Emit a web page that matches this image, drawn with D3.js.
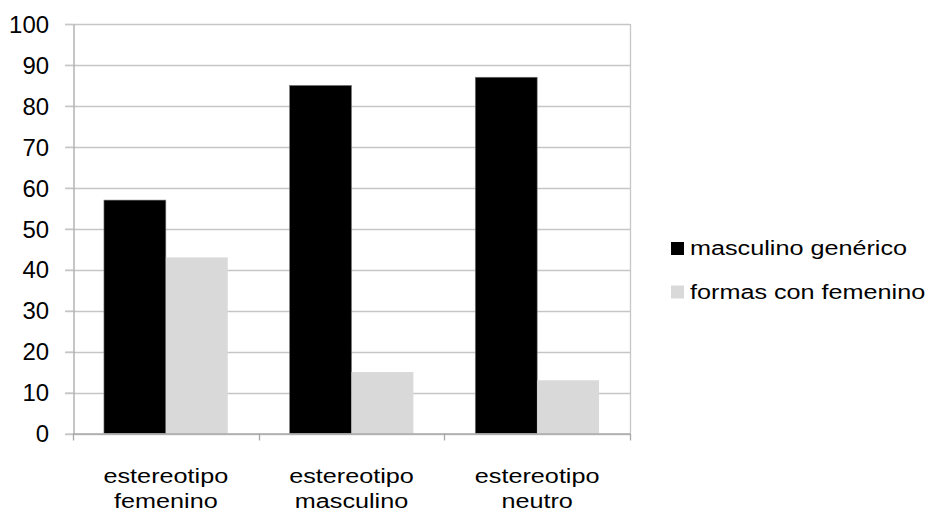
<!DOCTYPE html>
<html>
<head>
<meta charset="utf-8">
<script src="https://cdn.jsdelivr.net/npm/d3@7"></script>
<style>
  html, body { margin: 0; padding: 0; background: #fff; }
  svg { display: block; font-family: "Liberation Sans", Arial, sans-serif; }
</style>
</head>
<body>
<svg id="chart" width="928" height="512"></svg>
<script>
const categories = [["estereotipo", "femenino"], ["estereotipo", "masculino"], ["estereotipo", "neutro"]];
const seriesNames = ["masculino genérico", "formas con femenino"];
const masculinoGenerico = [57, 85, 87];
const formasConFemenino = [43, 15, 13];
const yTicks = [0, 10, 20, 30, 40, 50, 60, 70, 80, 90, 100];
const seriesColors = ["#000000", "#d9d9d9"];

const svg = d3.select("#chart");
const plotLeft = 73, plotRight = 630, plotTop = 24, plotBottom = 433.5;

const x = d3.scaleBand().domain(d3.range(categories.length)).range([plotLeft, plotRight])
  .paddingInner(1/3).paddingOuter(1/6);
const xs = d3.scaleBand().domain(d3.range(seriesNames.length)).range([0, x.bandwidth()]);
const y = d3.scaleLinear().domain([0, 100]).range([plotBottom, plotTop]);

// gridlines
svg.append("g").selectAll("line").data(yTicks).join("line")
  .attr("x1", plotLeft - 8).attr("x2", plotRight)
  .attr("y1", d => Math.round(y(d)) + 0.5).attr("y2", d => Math.round(y(d)) + 0.5)
  .attr("stroke", "#c6c6c6").attr("stroke-width", 1.3);

// right border line
svg.append("line").attr("x1", plotRight + 0.5).attr("x2", plotRight + 0.5)
  .attr("y1", plotTop).attr("y2", plotBottom).attr("stroke", "#c6c6c6").attr("stroke-width", 1.3);

// y axis
const yAxis = d3.axisLeft(y).tickValues(yTicks).tickSize(8).tickSizeOuter(0);
const gy = svg.append("g").attr("transform", `translate(${plotLeft + 0.5},0)`).call(yAxis);
gy.select(".domain").attr("stroke", "#a8a8a8").attr("stroke-width", 1.3);
gy.selectAll(".tick line").attr("stroke", "#c6c6c6").attr("stroke-width", 1.3);
gy.selectAll(".tick text")
  .attr("x", -24.5 / 1.04).attr("dy", "0.36em")
  .attr("transform", "scale(1.04,1)")
  .style("font-size", "23px").style("fill", "#000")
  .style("font-family", '"Liberation Sans", Arial, sans-serif');

// bars
const values = [masculinoGenerico, formasConFemenino];
values.forEach((vals, si) => {
  svg.append("g").selectAll("rect").data(vals).join("rect")
    .attr("x", (d, i) => x(i) + xs(si))
    .attr("y", d => y(d))
    .attr("width", xs.bandwidth())
    .attr("height", d => plotBottom - y(d))
    .attr("fill", seriesColors[si])
    .attr("stroke", si === 0 ? "#7a7a7a" : "none")
    .attr("stroke-width", 0.6);
});

// x axis
const xBounds = d3.range(categories.length + 1).map(i => plotLeft + i * x.step());
svg.append("line").attr("x1", plotLeft).attr("x2", plotRight)
  .attr("y1", plotBottom + 0.5).attr("y2", plotBottom + 0.5)
  .attr("stroke", "#a8a8a8").attr("stroke-width", 1.3);
svg.append("g").selectAll("line").data(xBounds).join("line")
  .attr("x1", d => Math.round(d) + 0.5).attr("x2", d => Math.round(d) + 0.5)
  .attr("y1", plotBottom).attr("y2", plotBottom + 7)
  .attr("stroke", "#a8a8a8").attr("stroke-width", 1.3);

// category labels
const catG = svg.append("g").selectAll("g").data(categories).join("g")
  .attr("transform", (d, i) => `translate(${x(i) + x.bandwidth() / 2},0) scale(1.2,1)`);
catG.each(function(lines) {
  d3.select(this).selectAll("text").data(lines).join("text")
    .attr("x", 0).attr("y", (d, j) => 483 + j * 25)
    .attr("text-anchor", "middle")
    .style("font-size", "21px").style("fill", "#000")
    .text(d => d);
});

// legend
const legendY = [242, 285.5];
const lg = svg.append("g").selectAll("g").data(seriesNames).join("g");
lg.append("rect")
  .attr("x", 671).attr("y", (d, i) => legendY[i])
  .attr("width", 13).attr("height", 13)
  .attr("fill", (d, i) => seriesColors[i]);
lg.append("text")
  .attr("transform", (d, i) => `translate(690,${legendY[i] + 13}) scale(1.2,1)`)
  .style("font-size", "21px").style("fill", "#000")
  .text(d => d);
</script>
</body>
</html>
